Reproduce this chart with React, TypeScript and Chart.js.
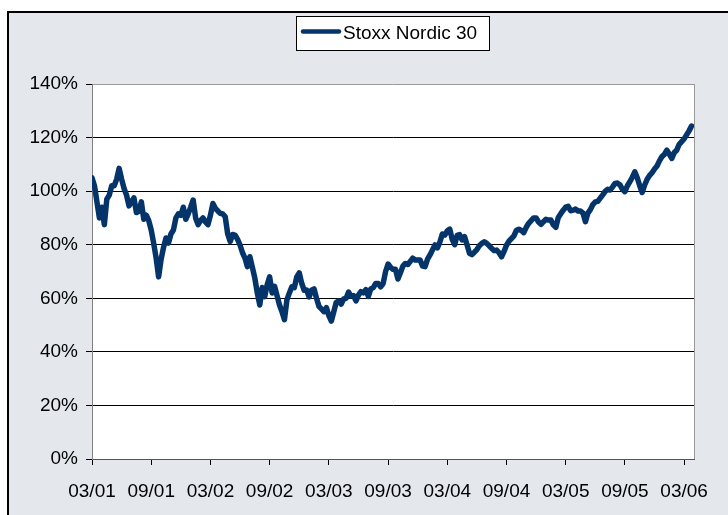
import React, { useEffect, useRef } from "react";
import { Chart, registerables } from "chart.js";

Chart.register(...registerables);

const seriesName = "Stoxx Nordic 30";
const xTickLabels = ["03/01", "09/01", "03/02", "09/02", "03/03", "09/03", "03/04", "09/04", "03/05", "09/05", "03/06"];
const yMin = 0;
const yMax = 140;
const yStep = 20;
const pointsPerMonth = 4;
const monthsPerLabel = 6;
const xAxisMonths = 61;

// Weekly index level (%), Mar 2001 - Feb 2002
const values2001 = [
  105, 102, 96, 90, 94, 87.5, 97, 98.5, 102, 102, 104.5, 108.5,
  104.5, 101, 98.5, 94.5, 96, 97.5, 92, 92.5, 96, 89.5, 91, 89,
  85.5, 80.5, 75, 68, 74.5, 79, 82.5, 80.6, 84, 85.5, 90, 91.5,
  91, 94, 89.5, 91.5, 94, 96.7, 90, 87.5, 89, 90, 88.5, 87.5,
];
// Mar 2002 - Feb 2003
const values2002 = [
  91, 95.4, 93.6, 92.6, 91.7, 91.5, 90.4, 84, 81.2, 83.8, 83.6, 82,
  79.9, 77, 75, 71.8, 75.5, 71.5, 67.5, 62, 57.5, 64, 60.6, 65,
  68, 62, 64.5, 61, 57.5, 55, 52, 59.4, 62, 64.3, 64, 68,
  69.5, 65.6, 63, 63.1, 60.5, 63, 63.5, 60, 57, 56, 55, 56.5,
];
// Mar 2003 - Feb 2004
const values2003 = [
  53.5, 51.5, 55, 58.5, 59, 57.8, 59.8, 60, 62.3, 60.8, 61, 59,
  61.2, 62.5, 62, 63.2, 60.7, 63.5, 64, 65.5, 65.5, 64.3, 65.5, 70,
  72.8, 71.6, 70.8, 70.8, 67.2, 69.5, 72, 73, 72.6, 73.8, 75, 74.3,
  74.3, 74.3, 72, 71.8, 74.6, 76.2, 78, 79.9, 78.8, 81, 84, 83.6,
];
// Mar 2004 - Feb 2005
const values2004 = [
  85.2, 85.8, 82, 80, 83.5, 83.8, 81.8, 83, 80, 76.8, 76.3, 77.2,
  78.2, 79.6, 80.5, 81.1, 80.5, 79.6, 78.6, 77.8, 78, 77, 75.5, 77.5,
  79.8, 81.3, 82.3, 83.3, 85.3, 85.8, 85.3, 84.5, 86.5, 88, 89, 90,
  90, 88.5, 87.6, 88.6, 89.5, 89.2, 89.2, 87.4, 86.5, 90.2, 91.6, 92.9,
];
// Mar 2005 - Feb 2006
const values2005 = [
  94, 94.3, 92.7, 92.9, 93.3, 92.6, 92.6, 91.8, 88.6, 91.8, 93.1, 95,
  96, 96.2, 97.4, 98.6, 99.9, 100.7, 100.4, 101.6, 102.9, 103, 102.3, 100.7,
  99.8, 102, 103.5, 105.2, 107.2, 105, 102, 99.5, 102.3, 104.4, 105.8, 106.9,
  108.3, 109.4, 111.3, 112.9, 113.7, 115.3, 113.8, 112.2, 114.4, 115.3, 117.5, 118.5,
];
// Mar 2006
const values2006 = [119.5, 121, 122.5, 124.3];

const values = [...values2001, ...values2002, ...values2003, ...values2004, ...values2005, ...values2006];

const FONT = "'Liberation Sans', Arial, sans-serif";
const LINE_COLOR = "#04346a";

export default function App() {
  const canvasRef = useRef<HTMLCanvasElement | null>(null);

  useEffect(() => {
    const canvas = canvasRef.current;
    if (!canvas) return;

    const plotBg = {
      id: "plotBg",
      beforeDraw(chart: any) {
        const { ctx, chartArea } = chart;
        ctx.save();
        ctx.fillStyle = "#ffffff";
        ctx.fillRect(chartArea.left, chartArea.top, chartArea.right - chartArea.left, chartArea.bottom - chartArea.top);
        ctx.restore();
      },
      beforeDatasetsDraw(chart: any) {
        const { ctx, chartArea } = chart;
        ctx.save();
        ctx.strokeStyle = "#9a9a9a";
        ctx.lineWidth = 1;
        ctx.beginPath();
        const r = Math.round(chartArea.right) + 0.5;
        ctx.moveTo(r, chartArea.top);
        ctx.lineTo(r, chartArea.bottom);
        ctx.stroke();
        ctx.restore();
      },
    };

    const boxedLegend = {
      id: "boxedLegend",
      afterDraw(chart: any) {
        const { ctx } = chart;
        ctx.save();
        ctx.fillStyle = "#ffffff";
        ctx.fillRect(296.5, 16.5, 193, 34);
        ctx.strokeStyle = "#000000";
        ctx.lineWidth = 1;
        ctx.strokeRect(296.5, 16.5, 193, 34);
        ctx.strokeStyle = LINE_COLOR;
        ctx.lineWidth = 4.5;
        ctx.lineCap = "round";
        ctx.beginPath();
        ctx.moveTo(303, 31.5);
        ctx.lineTo(339, 31.5);
        ctx.stroke();
        ctx.fillStyle = "#000000";
        ctx.font = `19px ${FONT}`;
        ctx.textBaseline = "alphabetic";
        ctx.textAlign = "left";
        ctx.fillText(seriesName, 343, 38.5);
        ctx.restore();
      },
    };

    const chart = new Chart(canvas, {
      type: "line",
      data: {
        datasets: [
          {
            label: seriesName,
            data: values.map((v, i) => ({ x: i / pointsPerMonth, y: v })),
            borderColor: LINE_COLOR,
            backgroundColor: LINE_COLOR,
            borderWidth: 5.5,
            borderJoinStyle: "round",
            borderCapStyle: "round",
            pointRadius: 0,
            tension: 0,
            fill: false,
          },
        ],
      },
      options: {
        animation: false,
        responsive: false,
        maintainAspectRatio: false,
        layout: { padding: { left: 0, top: 84, right: 34, bottom: 0 } },
        plugins: {
          legend: { display: false },
          tooltip: { enabled: false },
        },
        scales: {
          x: {
            type: "linear",
            min: 0,
            max: xAxisMonths,
            afterBuildTicks(scale: any) {
              scale.ticks = xTickLabels.map((_, i) => ({ value: i * monthsPerLabel }));
            },
            afterFit(scale: any) {
              scale.height = 56;
            },
            ticks: {
              autoSkip: false,
              maxRotation: 0,
              minRotation: 0,
              padding: 15,
              color: "#000000",
              font: { family: FONT, size: 19 },
              callback: (value: any) => xTickLabels[Math.round(Number(value) / monthsPerLabel)] ?? "",
            },
            grid: {
              display: true,
              drawOnChartArea: false,
              drawTicks: true,
              tickLength: 6,
              color: "#000000",
              tickColor: "#000000",
            },
            border: { display: true, color: "#555555", width: 1 },
          },
          y: {
            min: yMin,
            max: yMax,
            afterFit(scale: any) {
              scale.width = 92;
            },
            ticks: {
              stepSize: yStep,
              padding: 8,
              color: "#000000",
              font: { family: FONT, size: 19 },
              callback: (value: any) => `${value}%`,
            },
            grid: {
              color: (ctx: any) => (ctx.tick && ctx.tick.value === yMax ? "#9a9a9a" : "#000000"),
              tickColor: "#000000",
              tickLength: 6,
              lineWidth: 1,
            },
            border: { display: true, color: "#808080", width: 1 },
          },
        },
      },
      plugins: [plotBg, boxedLegend],
    } as any);

    return () => {
      chart.destroy();
    };
  }, []);

  return (
    <div style={{ position: "fixed", left: 0, top: 0, width: 728, height: 515, background: "#ffffff", overflow: "hidden" }}>
      <div
        style={{
          position: "absolute",
          left: 7,
          top: 11,
          width: 721,
          height: 504,
          borderLeft: "2px solid #000000",
          borderTop: "2px solid #000000",
          background: "#e4e8ed",
          boxSizing: "border-box",
        }}
      />
      <canvas ref={canvasRef} width={728} height={515} style={{ position: "absolute", left: 0, top: 0, width: 728, height: 515 }} />
    </div>
  );
}
